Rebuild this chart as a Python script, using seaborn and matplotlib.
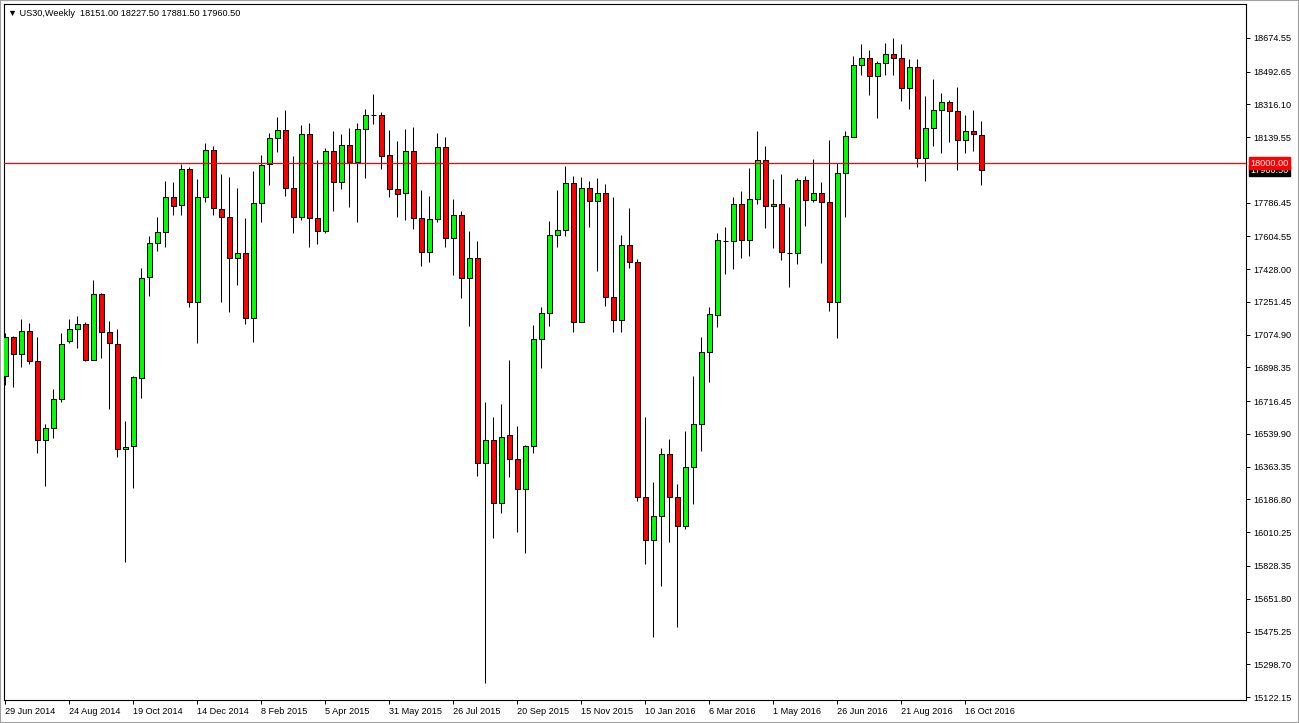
import numpy as np
import pandas as pd
import matplotlib
matplotlib.use("Agg")
import matplotlib.pyplot as plt
import seaborn as sns

# ---------------------------------------------------------------
# US30 weekly candles, 29 Jun 2014 .. 30 Oct 2016
opens = [16852.5, 17062.8, 16971.1, 17095.1, 16933.4, 16507.5, 16572.2, 16728.5, 17041.2, 17105.9,
         17132.9, 16938.8, 17294.6, 17089.7, 17025.0, 16459.0, 16475.2, 16841.7, 17386.2, 17569.5,
         17628.8, 17817.4, 17774.3, 17968.4, 17251.4, 17817.4, 18070.8, 17752.8, 17709.6, 17488.6,
         17515.6, 17165.2, 17785.1, 17995.3, 18135.5, 18178.6, 17866.0, 17709.6, 18157.1, 17704.3,
         17634.2, 18065.4, 17898.3, 18097.8, 18006.1, 18184.0, 18259.5, 18259.5, 18043.9, 17860.6,
         17839.0, 18065.4, 17704.3, 17521.0, 17698.9, 18087.0, 17596.4, 17720.4, 17380.8, 17488.6,
         16383.6, 16507.5, 16167.9, 16534.5, 16405.1, 16243.4, 16475.2, 17052.0, 17192.1, 17612.6,
         17639.6, 17892.9, 17143.6, 17866.0, 17795.9, 17839.0, 17278.4, 17154.4, 17558.7, 17467.1,
         16200.3, 15968.5, 16097.8, 16432.1, 16200.3, 16043.9, 16362.0, 16593.8, 16981.9, 17181.4,
         17580.3, 17580.3, 17779.7, 17585.7, 17806.7, 18016.9, 17768.9, 17779.7, 17515.6, 17515.6,
         17909.1, 17801.3, 17839.0, 17790.5, 17251.4, 17946.8, 18140.9, 18529.0, 18566.7, 18469.7,
         18539.8, 18588.3, 18566.7, 18405.0, 18518.2, 18027.7, 18189.4, 18286.4, 18329.6, 18281.0,
         18124.7, 18173.2, 18151.0]
highs = [17084.3, 17070.0, 17159.8, 17138.3, 17062.8, 16593.8, 16782.4, 17084.3, 17159.8, 17176.0,
         17143.6, 17370.0, 17300.0, 17149.0, 17105.9, 16610.0, 16852.5, 17434.7, 17607.2, 17709.6,
         17903.7, 17898.3, 17995.3, 17979.2, 17914.5, 18108.5, 18092.4, 17941.4, 17925.3, 17866.0,
         17704.3, 17957.6, 18043.9, 18162.4, 18248.7, 18286.4, 18038.5, 18205.6, 18216.4, 18016.9,
         18081.6, 18173.2, 18157.1, 18189.4, 18216.4, 18291.8, 18372.7, 18275.7, 18178.6, 18119.3,
         18184.0, 18194.8, 17855.2, 17822.8, 18162.4, 18140.9, 17806.7, 17742.0, 17634.2, 17580.3,
         16712.4, 16631.5, 16701.6, 16938.8, 16583.0, 16480.6, 17127.5, 17224.5, 17688.1, 17855.2,
         17984.6, 17930.7, 17925.3, 17903.7, 17919.9, 17887.5, 17817.4, 17612.6, 17758.2, 17483.2,
         16631.5, 16281.1, 16464.4, 16512.9, 16270.3, 16556.0, 16852.5, 17062.8, 17224.5, 17623.4,
         17655.7, 17817.4, 17849.8, 17973.8, 18173.2, 18092.4, 17914.5, 17941.4, 17763.5, 17919.9,
         17930.7, 18022.3, 17898.3, 18124.7, 18000.7, 18173.2, 18577.5, 18642.2, 18609.9, 18550.6,
         18647.6, 18674.6, 18642.2, 18561.4, 18561.4, 18361.9, 18453.5, 18378.1, 18340.3, 18410.4,
         18259.5, 18286.4, 18227.5]
lows = [16804.0, 16793.2, 16901.0, 16917.2, 16437.5, 16259.5, 16518.3, 16712.4, 17030.4, 17003.5,
        16933.4, 16938.8, 16949.6, 16674.6, 16415.9, 15849.9, 16248.7, 16733.9, 17283.8, 17526.4,
        17547.9, 17720.4, 17720.4, 17224.5, 17030.4, 17790.5, 17720.4, 17251.4, 17197.5, 17343.1,
        17132.9, 17035.8, 17682.7, 17882.1, 18060.0, 17822.8, 17623.4, 17693.5, 17547.9, 17564.1,
        17623.4, 17742.0, 17860.6, 17763.5, 17682.7, 17919.9, 18211.0, 17968.4, 17817.4, 17709.6,
        17693.5, 17645.0, 17445.5, 17467.1, 17682.7, 17547.9, 17397.0, 17273.0, 17122.1, 16313.5,
        15197.6, 15979.3, 16114.0, 16308.1, 16011.6, 15898.4, 16437.5, 16895.6, 17122.1, 17547.9,
        17607.2, 17089.7, 17143.6, 17655.7, 17418.5, 17229.9, 17089.7, 17089.7, 17434.7, 16178.7,
        15839.1, 15445.6, 15720.5, 15957.7, 15499.5, 16027.8, 16162.5, 16448.2, 16820.2, 17116.7,
        17402.4, 17429.3, 17488.6, 17499.4, 17779.7, 17650.3, 17542.5, 17477.8, 17332.3, 17456.3,
        17661.1, 17790.5, 17461.7, 17202.9, 17057.4, 17709.6, 18140.9, 18475.1, 18367.3, 18243.3,
        18475.1, 18475.1, 18334.9, 18291.8, 17979.2, 17903.7, 18092.4, 18054.6, 18113.9, 17963.0,
        18054.6, 18065.4, 17881.5]
closes = [17062.8, 16971.1, 17095.1, 16933.4, 16507.5, 16572.2, 16728.5, 17025.0, 17105.9, 17132.9,
          16938.8, 17294.6, 17089.7, 17030.4, 16459.0, 16469.8, 16847.1, 17380.8, 17569.5, 17628.8,
          17817.4, 17768.9, 17968.4, 17251.4, 17817.4, 18070.8, 17758.2, 17709.6, 17488.6, 17515.6,
          17165.2, 17785.1, 17989.9, 18135.5, 18178.6, 17866.0, 17709.6, 18157.1, 17704.3, 17634.2,
          18065.4, 17898.3, 18097.8, 18006.1, 18184.0, 18259.5, 18259.5, 18038.5, 17860.6, 17833.6,
          18065.4, 17704.3, 17521.0, 17698.9, 18087.0, 17596.4, 17720.4, 17380.8, 17488.6, 16383.6,
          16507.5, 16167.9, 16523.7, 16405.1, 16243.4, 16475.2, 17052.0, 17192.1, 17612.6, 17639.6,
          17892.9, 17143.6, 17866.0, 17795.9, 17839.0, 17278.4, 17154.4, 17558.7, 17467.1, 16200.3,
          15968.5, 16097.8, 16432.1, 16200.3, 16043.9, 16362.0, 16593.8, 16981.9, 17186.8, 17585.7,
          17580.3, 17779.7, 17585.7, 17806.7, 18016.9, 17768.9, 17779.7, 17521.0, 17515.6, 17909.1,
          17801.3, 17839.0, 17790.5, 17251.4, 17946.8, 18146.3, 18529.0, 18566.7, 18469.7, 18539.8,
          18588.3, 18566.7, 18405.0, 18518.2, 18027.7, 18189.4, 18286.4, 18329.6, 18281.0, 18124.7,
          18173.2, 18157.1, 17960.5]

date_labels = ["29 Jun 2014", "24 Aug 2014", "19 Oct 2014", "14 Dec 2014", "8 Feb 2015",
               "5 Apr 2015", "31 May 2015", "26 Jul 2015", "20 Sep 2015", "15 Nov 2015",
               "10 Jan 2016", "6 Mar 2016", "1 May 2016", "26 Jun 2016", "21 Aug 2016",
               "16 Oct 2016"]
price_ticks = [18674.55, 18492.65, 18316.10, 18139.55, 17786.45, 17604.55, 17428.00, 17251.45,
               17074.90, 16898.35, 16716.45, 16539.90, 16363.35, 16186.80, 16010.25, 15828.35,
               15651.80, 15475.25, 15298.70, 15122.15]
level_line = 18000.00
last_close = 17960.50

# ---------------------------------------------------------------
df = pd.DataFrame({"open": opens, "high": highs, "low": lows, "close": closes})
df["x"] = np.arange(len(df))
df["bull"] = df["close"] >= df["open"]
df["body_low"] = df[["open", "close"]].min(axis=1)
df["body_h"] = (df["close"] - df["open"]).abs()

sns.set_style("white")
plt.rcParams["font.family"] = ["Liberation Sans", "DejaVu Sans"]

fig = plt.figure(figsize=(12.99, 7.23), dpi=100)
ax = fig.add_axes([4 / 1299, 23 / 723, 1242 / 1299, 696 / 723])

# фитили и тела свечей
ax.vlines(df["x"], df["low"], df["high"], color="black", linewidth=0.75, zorder=2)
body_colors = np.where(df["bull"], "#00ff00", "#ff0000")
ax.bar(df["x"], df["body_h"], bottom=df["body_low"], width=0.56, color=body_colors,
       edgecolor="black", linewidth=0.75, zorder=3)

ax.axhline(level_line, color="#ff0000", linewidth=0.9, zorder=4)

ax.set_xlim(-0.16, 155.09)
ax.set_ylim(15106.0, 18857.8)

for s in ax.spines.values():
    s.set_color("black")
    s.set_linewidth(0.8)

# ось цен справа
ax.yaxis.tick_right()
ax.set_yticks(price_ticks)
ax.set_yticklabels([f"{v:.2f}" for v in price_ticks])
ax.tick_params(axis="y", which="both", right=True, left=False, direction="out", length=3,
               width=0.7, pad=2.5, labelsize=6.6, colors="black")

# даты снизу
ax.set_xticks(np.arange(0, len(date_labels) * 8, 8))
ax.set_xticklabels(date_labels, ha="left")
ax.tick_params(axis="x", bottom=True, direction="out", length=3, width=0.7, pad=2,
               labelsize=6.6, colors="black")
for lbl in ax.get_xticklabels():
    lbl.set_x(lbl.get_position()[0])

# метки уровня и последней цены
ytrans = ax.get_yaxis_transform()
ax.text(1.0035, last_close, f"{last_close:.2f}", transform=ytrans, ha="left", va="center",
        fontsize=6.6, color="white", zorder=5, clip_on=False,
        bbox=dict(facecolor="black", edgecolor="black", pad=1.0))
ax.text(1.0035, level_line, f"{level_line:.2f}", transform=ytrans, ha="left", va="center",
        fontsize=6.6, color="white", zorder=6, clip_on=False,
        bbox=dict(facecolor="#ff0000", edgecolor="#ff0000", pad=1.0))

# заголовок графика
ax.text(0.003, 0.993, "\u25bc US30,Weekly  18151.00 18227.50 17881.50 17960.50",
        transform=ax.transAxes, ha="left", va="top", fontsize=6.6, color="black")

fig.patches.append(plt.Rectangle((0, 0), 1, 1, transform=fig.transFigure, fill=False,
                                 edgecolor="#a0a0a0", linewidth=1.5))

fig.savefig("out.png", dpi=100, facecolor="white")
